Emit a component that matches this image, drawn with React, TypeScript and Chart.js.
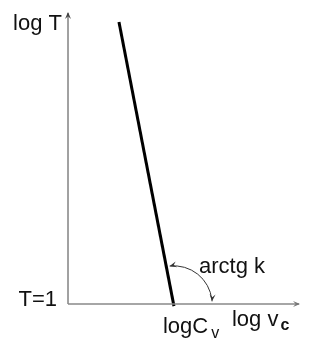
import React, { useEffect, useRef } from "react";
import { Chart, registerables } from "chart.js";

Chart.register(...registerables);

// Data (log units; origin = log v = 0, log T = 0 i.e. T = 1)
const logCv = 1.0;
const lineX = [0.481, 1.0];
const lineY = [2.66, -0.02];
const xAxisEnd = 2.18;
const yAxisEnd = 2.745;
const arcRadius = 0.36;
const labels = {
  yAxis: "log T",
  origin: "T=1",
  cv: "logC",
  cvSub: "v",
  xAxis: "log v",
  xAxisSub: "c",
  angle: "arctg k",
};

const FONT = "Liberation Sans, Arial, sans-serif";

function arrowHead(ctx: CanvasRenderingContext2D, x: number, y: number, ang: number, len: number, wid: number, color: string) {
  ctx.save();
  ctx.translate(x, y);
  ctx.rotate(ang);
  ctx.fillStyle = color;
  ctx.beginPath();
  ctx.moveTo(0, 0);
  ctx.lineTo(-len, -wid);
  ctx.lineTo(-len * 0.6, 0);
  ctx.lineTo(-len, wid);
  ctx.closePath();
  ctx.fill();
  ctx.restore();
}

const decorPlugin = {
  id: "decor",
  afterDatasetsDraw(chart: any) {
    const ctx: CanvasRenderingContext2D = chart.ctx;
    const xs = chart.scales.x;
    const ys = chart.scales.y;
    const ox = xs.getPixelForValue(0);
    const oy = ys.getPixelForValue(0);
    const xEnd = xs.getPixelForValue(xAxisEnd);
    const yEnd = ys.getPixelForValue(yAxisEnd);
    const cx = xs.getPixelForValue(logCv);
    // axis arrows
    arrowHead(ctx, xEnd + 1, oy, 0, 7, 3, "#777");
    arrowHead(ctx, ox, yEnd - 1, -Math.PI / 2, 7, 3, "#444");

    // arc for angle
    const r = xs.getPixelForValue(logCv + arcRadius) - cx;
    const p0x = xs.getPixelForValue(lineX[0]);
    const p0y = ys.getPixelForValue(lineY[0]);
    const lineAng = Math.atan2(p0y - oy, p0x - cx); // canvas angle (negative)
    const a0 = lineAng + 0.08;
    const a1 = -0.07;
    ctx.save();
    ctx.strokeStyle = "#333";
    ctx.lineWidth = 1;
    ctx.beginPath();
    ctx.arc(cx, oy, r, a0, a1, false);
    ctx.stroke();
    ctx.restore();
    // arrowhead at start (pointing toward line, counter-clockwise tangent)
    const sx = cx + r * Math.cos(a0);
    const sy = oy + r * Math.sin(a0);
    arrowHead(ctx, sx, sy, a0 - Math.PI / 2 - 0.15, 7, 3, "#333");
    const ex = cx + r * Math.cos(a1);
    const ey = oy + r * Math.sin(a1);
    arrowHead(ctx, ex, ey, a1 + Math.PI / 2 + 0.15, 7, 3, "#333");

    // labels
    ctx.save();
    ctx.fillStyle = "#111";
    ctx.textBaseline = "alphabetic";
    ctx.font = `22px ${FONT}`;
    ctx.textAlign = "right";
    ctx.fillText(labels.yAxis, ox - 6, yEnd + 17);
    ctx.fillText(labels.origin, ox - 11, oy + 2);
    ctx.textAlign = "left";
    ctx.fillText(labels.angle, cx + 25, oy - 31);
    // logC_v
    ctx.fillText(labels.cv, cx - 11, oy + 29);
    const wCv = ctx.measureText(labels.cv).width;
    ctx.font = `16px ${FONT}`;
    ctx.fillText(labels.cvSub, cx - 11 + wCv + 3, oy + 34);
    // log v_c
    ctx.font = `22px ${FONT}`;
    const xl = cx + 58;
    ctx.fillText(labels.xAxis, xl, oy + 22);
    const wX = ctx.measureText(labels.xAxis).width;
    ctx.font = `bold 16px ${FONT}`;
    ctx.fillText(labels.xAxisSub, xl + wX + 2, oy + 26);
    ctx.restore();
  },
};

export default function App() {
  const ref = useRef<HTMLCanvasElement>(null);
  useEffect(() => {
    document.body.style.margin = "0";
    const canvas = ref.current!;
    const chart = new Chart(canvas, {
      type: "scatter",
      data: {
        datasets: [
          {
            label: "x axis",
            data: [
              { x: 0, y: 0 },
              { x: xAxisEnd, y: 0 },
            ],
            showLine: true,
            borderColor: "#888",
            borderWidth: 1.5,
            pointRadius: 0,
          },
          {
            label: "y axis",
            data: [
              { x: 0, y: 0 },
              { x: 0, y: yAxisEnd },
            ],
            showLine: true,
            borderColor: "#444",
            borderWidth: 1,
            pointRadius: 0,
          },
          {
            label: "log T",
            data: lineX.map((x, i) => ({ x, y: lineY[i] })),
            showLine: true,
            borderColor: "#000",
            borderWidth: 3,
            pointRadius: 0,
          },
        ],
      },
      options: {
        responsive: false,
        animation: false,
        layout: { padding: { left: 68, right: 17, top: 13, bottom: 41 } },
        plugins: { legend: { display: false }, tooltip: { enabled: false } },
        scales: {
          x: { type: "linear", min: 0, max: xAxisEnd, display: false },
          y: { type: "linear", min: 0, max: yAxisEnd, display: false },
        },
        elements: { line: { borderCapStyle: "butt" } },
        clip: false as any,
      },
      plugins: [decorPlugin],
    });
    return () => chart.destroy();
  }, []);
  return (
    <div style={{ width: 316, height: 345, background: "#fff" }}>
      <canvas ref={ref} width={316} height={345} />
    </div>
  );
}
